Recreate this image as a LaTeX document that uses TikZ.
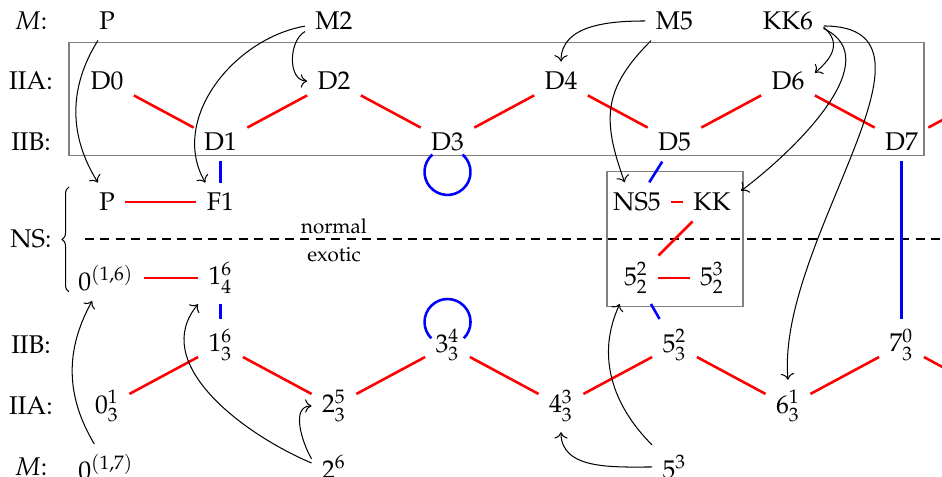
\documentclass[tikz,border=0pt]{standalone}
\usepackage[T1]{fontenc}
\usepackage{mathpazo}
\usetikzlibrary{arrows.meta,decorations.pathreplacing}

\begin{document}
\begin{tikzpicture}[
  x=0.39pt, y=0.39pt,
  every node/.style={inner sep=3.9pt},
  bond/.style={red, line width=1pt},
  tbond/.style={blue, line width=1pt},
  lift/.style={->, thin},
  grp/.style={draw=gray},
  tag/.style={font=\footnotesize}
]
\useasboundingbox (0,0) rectangle (942,477);
\clip (0,0) rectangle (942,477);

\node (lM) at (31,456) {$M$:};
\node (lA) at (31,396) {IIA:};
\node (lB) at (31,335) {IIB:};
\node (lNS) at (31,238) {NS:};
\node (lB2) at (31,132) {IIB:};
\node (lA2) at (31,71) {IIA:};
\node (lM2) at (31,10) {$M$:};

\node (mP) at (107,456) {P};
\node (mM2) at (334,456) {M2};
\node (mM5) at (674.5,456) {M5};
\node (mKK6) at (788,456) {KK6};

\node (D0) at (107,396) {D0};
\node (D2) at (334,396) {D2};
\node (D4) at (561,396) {D4};
\node (D6) at (788,396) {D6};
\node (D1) at (220.5,335) {D1};
\node (D3) at (447.5,335) {D3};
\node (D5) at (674.5,335) {D5};
\node (D7) at (901.5,335) {D7};
\coordinate (D8) at (1015,396);

\node (nP) at (107,275) {P};
\node (nF1) at (220.5,275) {F1};
\node (nNS5) at (637,275) {NS5};
\node (nKK) at (712,275) {KK};

\node (eZero) at (106,199) {$0^{(1,6)}$};
\node (eOne) at (220.5,199) {$1^6_4$};
\node (eFiveA) at (636,199) {$5^2_2$};
\node (eFiveB) at (712,199) {$5^3_2$};

\node (bOne) at (220.5,132) {$1^6_3$};
\node (bThree) at (447.5,132) {$3^4_3$};
\node (bFive) at (674.5,132) {$5^2_3$};
\node (bSeven) at (901.5,132) {$7^0_3$};

\node (aZero) at (107,71) {$0^1_3$};
\node (aTwo) at (334,71) {$2^5_3$};
\node (aFour) at (561,71) {$4^3_3$};
\node (aSix) at (788,71) {$6^1_3$};
\coordinate (aEight) at (1015,71);

\node (mZero) at (106,10) {$0^{(1,7)}$};
\node (mTwo) at (334,10) {$2^6$};
\node (mFive) at (674.5,10) {$5^3$};

\draw[grp] (69,434) rectangle (924,321);
\draw[grp] (607,305) rectangle (743,170);

\draw[thick, dash pattern=on 3.5pt off 2.5pt] (85,238) -- (942,238);
\node[tag] (nrm) at (334,251) {normal};
\node[tag] (exo) at (334,222) {exotic};
\draw[decorate, decoration={brace, amplitude=2.7pt}] (69,185) -- (69,290);

\foreach \a/\b in {D0/D1, D1/D2, D2/D3, D3/D4, D4/D5, D5/D6, D6/D7, D7/D8,
  nP/nF1, nNS5/nKK, nKK/eFiveA, eFiveA/eFiveB, eZero/eOne,
  aZero/bOne, bOne/aTwo, aTwo/bThree, bThree/aFour, aFour/bFive,
  bFive/aSix, aSix/bSeven, bSeven/aEight}
  \draw[bond] (\a) -- (\b);
\foreach \a/\b in {D1/nF1, D5/nNS5, D7/bSeven, eOne/bOne, eFiveA/bFive}
  \draw[tbond] (\a) -- (\b);
\draw[tbond] ([shift={(-15.1,-12.6)}]D3.center) arc[start angle=131, end angle=409, radius=23];
\draw[tbond] ([shift={(16.3,6.7)}]bThree.center) arc[start angle=-45, end angle=225, radius=23];

\draw[lift] (mP.245) to[bend right=32] (nP.115);
\draw[lift] (mM2.190) to[out=190,in=120] (nF1.128);
\draw[lift] (mM2.200) to[out=210,in=180] (D2.west);
\draw[lift] (mM5.west) to[out=180,in=90] (D4.north);
\draw[lift] (mM5.220) to[out=225,in=110,looseness=1.2] (nNS5.122);
\draw[lift] (mKK6.-10) to[out=-40,in=40,looseness=1.3] (D6.17);
\draw[lift] (mKK6.-12) to[out=-25,in=37] (nKK.21);
\draw[lift] (mKK6.-8) to[out=0,in=95] (aSix.north);
\draw[lift] (mZero.117) to[bend left=30] (eZero.239);
\draw[lift] (mTwo.170) to[out=157,in=-130] (eOne.south west);
\draw[lift] (mTwo.160) to[out=120,in=180] (aTwo.west);
\draw[lift] (mFive.west) to[out=180,in=-90] (aFour.south);
\draw[lift] (mFive.north west) to[out=135,in=-115] (eFiveA.238);
\end{tikzpicture}
\end{document}
